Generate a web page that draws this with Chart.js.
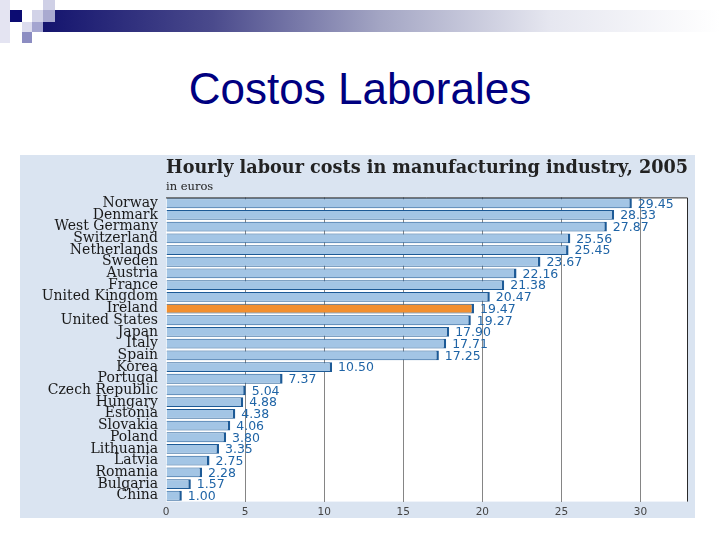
<!DOCTYPE html>
<html>
<head>
<meta charset="utf-8">
<script src="https://cdn.jsdelivr.net/npm/chart.js@4"></script>
<style>
  html, body { margin: 0; padding: 0; background: #fff; }
  body { width: 720px; height: 540px; position: relative; overflow: hidden; }
  .sq { position: absolute; }
  .band {
    position: absolute; left: 43px; top: 10px; width: 677px; height: 22px;
    background: linear-gradient(to right, #14146e 0%, #4a4a8c 25%, #a4a6c4 50%, #e6e7f0 75%, #ffffff 100%);
  }
  h1 {
    position: absolute; left: 0; top: 64px; width: 720px; margin: 0;
    text-align: center; font: 44px "Liberation Sans", Arial, sans-serif;
    color: #000080; font-weight: normal;
  }
  .panel {
    position: absolute; left: 20px; top: 155px; width: 675px; height: 363px;
    background: #dae4f1;
  }
</style>
</head>
<body>
<div class="sq" style="left:0;top:0;width:10px;height:43px;background:#e4e4f2"></div>
<div class="band"></div>
<div class="sq" style="left:10px;top:10px;width:12px;height:12px;background:#0c0c72"></div>
<div class="sq" style="left:22px;top:22px;width:10px;height:10px;background:#dcdcee"></div>
<div class="sq" style="left:32px;top:10px;width:11px;height:12px;background:#d2d3e8"></div>
<div class="sq" style="left:43px;top:0;width:12px;height:10px;background:#cfd0e6"></div>
<div class="sq" style="left:43px;top:10px;width:12px;height:12px;background:#a9aad0"></div>
<div class="sq" style="left:32px;top:22px;width:11px;height:10px;background:#a4a5d0"></div>
<div class="sq" style="left:22px;top:32px;width:10px;height:11px;background:#8c8dc2"></div>

<h1>Costos Laborales</h1>

<div class="panel"><canvas id="chart"></canvas></div>

<script>
const countries = [
  'Norway', 'Denmark', 'West Germany', 'Switzerland', 'Netherlands', 'Sweden',
  'Austria', 'France', 'United Kingdom', 'Ireland', 'United States', 'Japan',
  'Italy', 'Spain', 'Korea', 'Portugal', 'Czech Republic', 'Hungary', 'Estonia',
  'Slovakia', 'Poland', 'Lithuania', 'Latvia', 'Romania', 'Bulgaria', 'China',
]
const costs = [
  29.45, 28.33, 27.87, 25.56, 25.45, 23.67,
  22.16, 21.38, 20.47, 19.47, 19.27, 17.90,
  17.71, 17.25, 10.50, 7.37, 5.04, 4.88, 4.38,
  4.06, 3.80, 3.35, 2.75, 2.28, 1.57, 1.00,
]
const highlight = 'Ireland'
const xTicks = [0, 5, 10, 15, 20, 25, 30]

const BAR_FILL = '#a3c5e5'
const BAR_EDGE = '#1d5a96'
const HIGHLIGHT_FILL = '#f28f2f'
const VALUE_COLOR = '#1f64a6'
const SERIF = '"DejaVu Serif", "Liberation Serif", serif'
const SANS = '"DejaVu Sans", Verdana, sans-serif'

// white plot area plus the dark frame on top and right
const plotFrame = {
  id: 'plotFrame',
  beforeDraw(chart) {
    const { ctx, chartArea: a } = chart
    ctx.save()
    ctx.fillStyle = '#ffffff'
    ctx.fillRect(a.left, a.top, a.right - a.left, a.bottom - a.top)
    ctx.restore()
  },
  afterDraw(chart) {
    const { ctx, chartArea: a } = chart
    ctx.save()
    ctx.strokeStyle = '#2a2a2a'
    ctx.lineWidth = 1
    ctx.beginPath()
    ctx.moveTo(a.left, a.top + 0.5)
    ctx.lineTo(a.right - 0.5, a.top + 0.5)
    ctx.lineTo(a.right - 0.5, a.bottom)
    ctx.stroke()
    ctx.restore()
  },
}

// value printed just past the end of each bar
const valueLabels = {
  id: 'valueLabels',
  afterDatasetsDraw(chart) {
    const { ctx } = chart
    const meta = chart.getDatasetMeta(0)
    ctx.save()
    ctx.font = '12.5px ' + SANS
    ctx.fillStyle = VALUE_COLOR
    ctx.textBaseline = 'middle'
    ctx.textAlign = 'left'
    meta.data.forEach((bar, i) => {
      ctx.fillText(costs[i].toFixed(2), bar.x + 6, bar.y + 1)
    })
    ctx.restore()
  },
}

new Chart(document.getElementById('chart'), {
  type: 'bar',
  data: {
    labels: countries,
    datasets: [{
      data: costs,
      backgroundColor: countries.map(c => c === highlight ? HIGHLIGHT_FILL : BAR_FILL),
      borderColor: BAR_EDGE,
      borderWidth: { top: 1, bottom: 1, left: 0, right: 2.5 },
      borderSkipped: 'start',
      barPercentage: 0.84,
      categoryPercentage: 1,
    }],
  },
  options: {
    indexAxis: 'y',
    responsive: true,
    maintainAspectRatio: false,
    animation: false,
    layout: { padding: { left: 0, right: 7, top: 0, bottom: 0 } },
    plugins: {
      legend: { display: false },
      tooltip: { enabled: false },
      title: {
        display: true,
        text: 'Hourly labour costs in manufacturing industry, 2005',
        align: 'end',
        fullSize: false,
        color: '#222',
        font: { family: SERIF, size: 18, weight: 'bold' },
        padding: { top: 3, bottom: 1 },
      },
      subtitle: {
        display: true,
        text: 'in euros',
        align: 'start',
        fullSize: false,
        color: '#222',
        font: { family: SERIF, size: 11.5 },
        padding: { top: 0, bottom: 3 },
      },
    },
    scales: {
      x: {
        min: 0,
        max: 33,
        grid: {
          color: ctx => ctx.tick && ctx.tick.value === 0 ? 'rgba(0,0,0,0)' : '#858585',
          drawTicks: false,
        },
        border: { display: false },
        afterBuildTicks: scale => { scale.ticks = xTicks.map(v => ({ value: v })) },
        afterFit: scale => { scale.height = 15 },
        ticks: {
          color: '#444',
          font: { family: SANS, size: 10.5 },
          padding: 4,
          maxRotation: 0,
        },
      },
      y: {
        grid: { display: false, drawTicks: false },
        border: { display: false },
        afterFit: scale => { scale.width = 146 },
        ticks: {
          autoSkip: false,
          color: '#1a1a1a',
          font: { family: SERIF, size: 14 },
          padding: 8,
        },
      },
    },
  },
  plugins: [plotFrame, valueLabels],
})
</script>
</body>
</html>
